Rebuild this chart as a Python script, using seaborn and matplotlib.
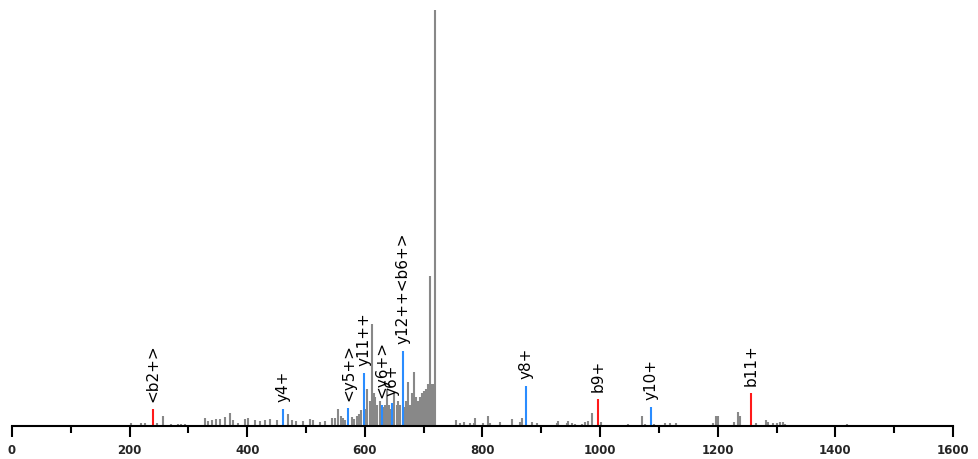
import matplotlib.pyplot as plt
import seaborn as sns
import pandas as pd

# --- data: m/z and relative intensity (% of base peak) ---
noise_mz = [202, 220, 226, 246, 257, 271, 283, 288, 294,
            328, 334, 340, 347, 354, 362, 370, 376, 385, 396, 402, 413, 422, 430,
            438, 450, 470, 476, 483, 495, 507, 512, 524, 532, 544, 549, 555, 559,
            563, 567, 578, 582, 586, 590, 594,
            600, 604, 608, 612, 615, 618, 621, 625, 632, 635, 637, 641, 644, 650,
            654, 657, 660, 667, 670, 673, 677, 680, 684, 687, 690, 694, 697, 701,
            704, 707, 710, 713, 715, 719,
            755, 761, 769, 778, 785, 787, 801, 810, 813, 830, 850, 864, 868, 884,
            893, 926, 929, 943, 946, 952, 957, 969, 974, 980, 986, 1001, 1048,
            1072, 1077, 1091, 1111, 1119, 1129, 1192, 1197, 1201, 1228, 1234, 1238,
            1265, 1282, 1286, 1294, 1300, 1306, 1311, 1315, 1420]
noise_int = [0.8, 0.7, 0.7, 0.8, 2.5, 0.6, 0.6, 0.6, 0.5,
             2.0, 1.3, 1.4, 1.8, 1.8, 2.2, 3.2, 1.5, 0.8, 1.8, 2.0, 1.5, 1.3, 1.5,
             1.8, 1.5, 2.8, 1.5, 1.2, 1.2, 1.8, 1.5, 1.0, 1.2, 2.0, 2.0, 4.2, 2.5,
             2.0, 1.5, 2.2, 1.8, 2.5, 3.0, 3.8,
             4.0, 9.0, 6.0, 24.5, 8.0, 7.0, 5.0, 6.0, 4.5, 5.0, 9.0, 5.0, 4.0, 8.0,
             5.0, 6.0, 5.0, 4.5, 6.0, 10.5, 5.0, 8.0, 13.0, 7.0, 6.0, 7.0, 8.0, 8.5,
             9.0, 10.0, 36.0, 10.0, 10.0, 100.0,
             1.5, 0.8, 1.0, 0.8, 0.8, 2.0, 0.8, 2.5, 0.8, 1.0, 1.6, 1.0, 2.0, 1.0,
             0.7, 0.8, 1.2, 0.8, 1.2, 0.8, 0.6, 0.6, 1.0, 1.2, 3.2, 1.0, 0.6,
             2.5, 0.6, 0.5, 0.8, 0.8, 0.7, 0.8, 2.5, 2.5, 1.0, 3.3, 2.5,
             0.7, 1.5, 1.0, 0.7, 0.8, 1.0, 1.0, 0.6, 0.5]

b_labels = ['<b2+>', 'b9+', 'b11+']
b_mz = [240, 997, 1256]
b_int = [4.0, 6.4, 7.9]

y_labels = ['y4+', '<y5+>', 'y11++', '<y6+>', 'y6+', 'y12++<b6+>', 'y8+', 'y10+']
y_mz = [461, 572, 599, 629, 646, 664, 874, 1086]
y_int = [4.0, 4.4, 12.7, 5.0, 5.5, 18.0, 9.7, 4.5]

noise = pd.DataFrame({'mz': noise_mz, 'intensity': noise_int})
b_ions = pd.DataFrame({'label': b_labels, 'mz': b_mz, 'intensity': b_int})
y_ions = pd.DataFrame({'label': y_labels, 'mz': y_mz, 'intensity': y_int})

sns.set_theme(style='white')
plt.rcParams['font.family'] = ['DejaVu Sans']

fig = plt.figure(figsize=(9.79, 4.59), dpi=100)
ax = fig.add_axes([12 / 979, 1 - 426 / 459, 941 / 979, 416 / 459])

ax.vlines(noise['mz'], 0, noise['intensity'], color='#888888', linewidth=1.5)
ax.vlines(b_ions['mz'], 0, b_ions['intensity'], color='#ff1a1a', linewidth=1.5)
ax.vlines(y_ions['mz'], 0, y_ions['intensity'], color='#2a8cff', linewidth=1.5)

for ions in (b_ions, y_ions):
    for _, row in ions.iterrows():
        ax.annotate(row['label'], xy=(row['mz'], row['intensity']),
                    xytext=(0, 5), textcoords='offset points',
                    rotation=90, ha='center', va='bottom',
                    fontsize=11, color='black')

ax.set_xlim(0, 1600)
ax.set_ylim(0, 100)
ax.set_xticks(range(0, 1601, 200))
ax.set_xticks(range(100, 1600, 200), minor=True)
ax.set_yticks([])
ax.tick_params(axis='x', which='major', direction='out', length=8, width=1.5,
               color='black', pad=5, labelsize=8.5, bottom=True)
ax.tick_params(axis='x', which='minor', direction='out', length=5, width=1.5,
               color='black', bottom=True)
for lab in ax.get_xticklabels():
    lab.set_fontweight('bold')

sns.despine(ax=ax, left=True)
ax.spines['bottom'].set_linewidth(1.5)
ax.spines['bottom'].set_color('black')
ax.set_facecolor('white')
ax.grid(False)

fig.savefig('out.png', dpi=100)
